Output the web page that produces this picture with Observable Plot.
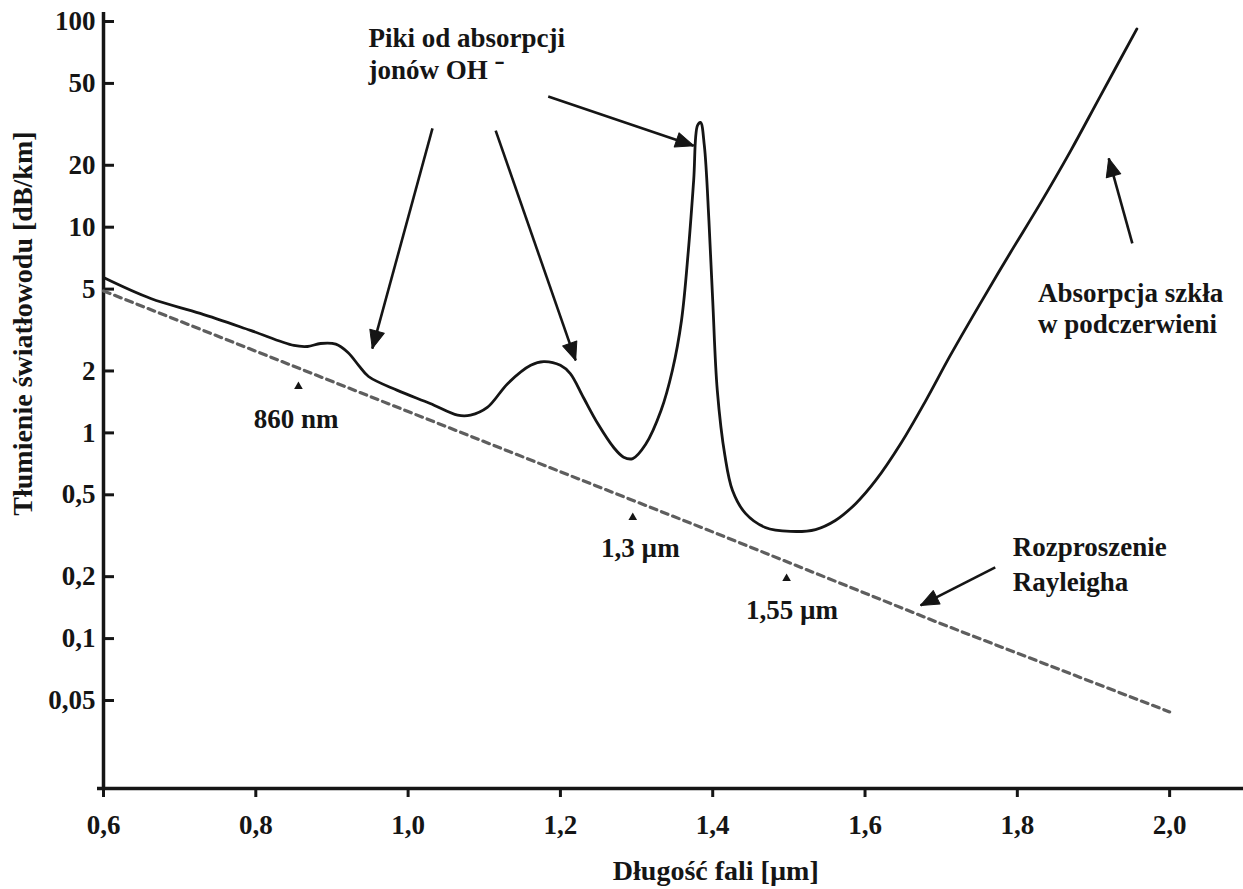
<!DOCTYPE html>
<html><head><meta charset="utf-8">
<script src="https://cdn.jsdelivr.net/npm/d3@7"></script>
<script src="https://cdn.jsdelivr.net/npm/@observablehq/plot@0.6"></script>
<style>body{margin:0;background:#fff;} svg{display:block}</style>
</head><body><div id="chart"></div>
<script>
// Attenuation curve
const wavelength = [0.600,0.662,0.727,0.793,0.850,0.868,0.885,0.905,0.921,0.935,0.948,0.986,1.029,1.065,1.082,1.104,1.131,1.161,1.178,1.200,1.213,1.230,1.249,1.270,1.283,1.295,1.312,1.332,1.347,1.359,1.368,1.375,1.380,1.384,1.389,1.395,1.400,1.406,1.416,1.426,1.443,1.469,1.502,1.535,1.561,1.588,1.614,1.647,1.680,1.712,1.752,1.791,1.831,1.870,1.909,1.957];
const attenuation = [5.69,4.50,3.81,3.15,2.66,2.63,2.72,2.70,2.46,2.13,1.88,1.61,1.39,1.22,1.22,1.33,1.74,2.13,2.22,2.13,1.94,1.49,1.11,0.849,0.762,0.750,0.880,1.28,2.01,3.52,7.70,16.9,31.2,32.3,24.9,10.8,4.40,1.61,0.776,0.525,0.406,0.347,0.332,0.339,0.375,0.454,0.587,0.888,1.44,2.38,4.30,7.53,13.2,23.5,43.4,92.0];
// Rayleigh scattering (dashed)
const rayleighWavelength = [0.6, 1.0, 1.4, 1.7, 2.0];
const rayleighAttenuation = [4.9, 1.27, 0.33, 0.118, 0.044];
// Axes
const xTicks = [0.6, 0.8, 1.0, 1.2, 1.4, 1.6, 1.8, 2.0];
const xTickLabels = ["0,6", "0,8", "1,0", "1,2", "1,4", "1,6", "1,8", "2,0"];
const yTicks = [100, 50, 20, 10, 5, 2, 1, 0.5, 0.2, 0.1, 0.05];
const yTickLabels = ["100", "50", "20", "10", "5", "2", "1", "0,5", "0,2", "0,1", "0,05"];
const xDomain = [0.6, 2.097];
const yDomain = [0.01867, 110.6];
const xTitle = "Długość fali [µm]";
const yTitle = "Tłumienie światłowodu [dB/km]";
// Wavelength markers
const markerWavelength = [0.856, 1.295, 1.497];
const markerAttenuation = [1.68, 0.388, 0.196];
const markerLabels = ["860 nm", "1,3 µm", "1,55 µm"];
const markerLabelX = [0.853, 1.305, 1.504];
const markerLabelY = [1.17, 0.274, 0.137];
// Annotation text lines
const noteLines = ["Piki od absorpcji", "jonów OH ⁻", "Absorpcja szkła", "w podczerwieni", "Rozproszenie", "Rayleigha"];
const noteX = [0.948, 0.948, 1.827, 1.827, 1.794, 1.794];
const noteY = [82.6, 57.8, 4.76, 3.37, 0.277, 0.1875];
// Annotation arrows
const arrowX1 = [1.032, 1.115, 1.184, 1.951, 1.771];
const arrowY1 = [30.2, 29.5, 43.2, 8.34, 0.222];
const arrowX2 = [0.953, 1.220, 1.375, 1.920, 1.673];
const arrowY2 = [2.57, 2.25, 24.9, 21.6, 0.145];

const curve = wavelength.map((w, i) => ({w, a: attenuation[i]}));
const rayleigh = rayleighWavelength.map((w, i) => ({w, a: rayleighAttenuation[i]}));
const markers = markerWavelength.map((w, i) => ({w, a: markerAttenuation[i], label: markerLabels[i], lx: markerLabelX[i], ly: markerLabelY[i]}));
const notes = noteLines.map((t, i) => ({t, x: noteX[i], y: noteY[i]}));
const arrows = arrowX1.map((x1, i) => ({x1, y1: arrowY1[i], x2: arrowX2[i], y2: arrowY2[i]}));
const xLab = new Map(xTicks.map((t, i) => [t, xTickLabels[i]]));
const yLab = new Map(yTicks.map((t, i) => [t, yTickLabels[i]]));

const font = "Liberation Serif, Times New Roman, serif";
const ink = "#151515";

const chart = Plot.plot({
  width: 1243,
  height: 889,
  marginLeft: 103,
  marginRight: 0,
  marginTop: 12,
  marginBottom: 101,
  style: {background: "#fff", color: ink, fontFamily: font, fontWeight: "bold"},
  x: {domain: xDomain, label: null},
  y: {type: "log", domain: yDomain, label: null},
  marks: [
    Plot.axisX({ticks: xTicks, text: d => xLab.get(d), tickSize: 9, tickPadding: 17, strokeWidth: 3, fontSize: 27, fontWeight: "bold", fontFamily: font, fill: ink, label: null}),
    Plot.axisY({ticks: yTicks, text: d => yLab.get(d), tickSize: -11, tickPadding: 19, strokeWidth: 3, fontSize: 27, fontWeight: "bold", fontFamily: font, fill: ink, label: null}),
    Plot.ruleX([xDomain[0]], {y1: yDomain[0], y2: yDomain[1], stroke: ink, strokeWidth: 3.5}),
    Plot.ruleY([yDomain[0]], {insetLeft: -6, stroke: ink, strokeWidth: 3.5}),
    Plot.line(rayleigh, {x: "w", y: "a", stroke: "#5e5e5e", strokeWidth: 3.2, strokeDasharray: "7,5"}),
    Plot.line(curve, {x: "w", y: "a", stroke: ink, strokeWidth: 2.8, curve: "catmull-rom"}),
    Plot.dot(markers, {x: "w", y: "a", symbol: "triangle", r: 3.2, fill: ink, stroke: null}),
    Plot.text(markers, {x: "lx", y: "ly", text: "label", fontSize: 27, fontWeight: "bold", fill: ink}),
    Plot.text(notes, {x: "x", y: "y", text: "t", textAnchor: "start", fontSize: 27, fontWeight: "bold", fill: ink}),
    Plot.link(arrows, {x1: "x1", y1: "y1", x2: "x2", y2: "y2", stroke: ink, strokeWidth: 2.6, markerEnd: "arrow"}),
    Plot.text([yTitle], {y: [3.40], frameAnchor: "left", textAnchor: "middle", dx: -80, rotate: -90, text: d => d, fontSize: 28, fontWeight: "bold", fill: ink}),
    Plot.text([xTitle], {x: [1.404], frameAnchor: "bottom", dy: 91, text: d => d, fontSize: 28, fontWeight: "bold", fill: ink})
  ]
});

chart.querySelectorAll("marker").forEach(m => {
  m.setAttribute("viewBox", "-19 -9 20 18");
  m.setAttribute("markerUnits", "userSpaceOnUse");
  m.setAttribute("markerWidth", "20");
  m.setAttribute("markerHeight", "18");
  m.setAttribute("refX", "0");
  m.setAttribute("refY", "0");
  m.setAttribute("fill", ink);
  m.setAttribute("stroke", ink);
  m.setAttribute("stroke-width", "1");
  const p = m.querySelector("path");
  if (p) p.setAttribute("d", "M-18,-7.5L0,0L-18,7.5Z");
});

document.getElementById("chart").appendChild(chart);
</script>
</body></html>
